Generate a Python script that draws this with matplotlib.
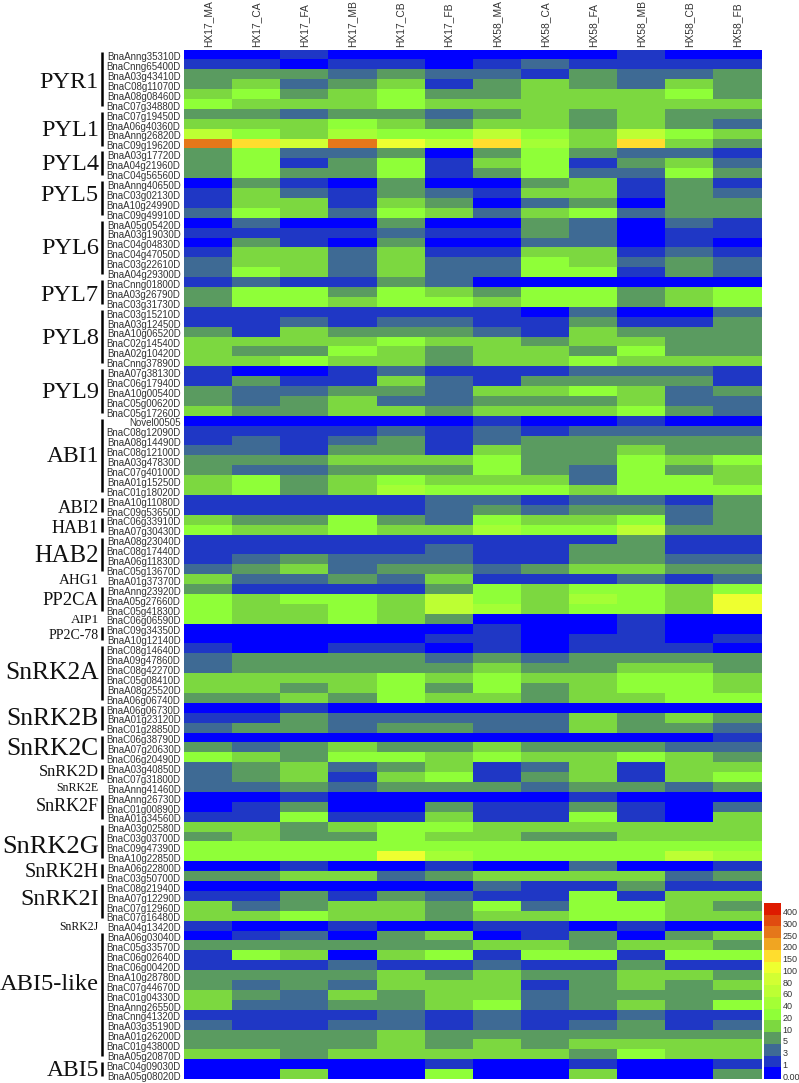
import matplotlib

matplotlib.use("Agg")
import matplotlib.pyplot as plt
import numpy as np
from matplotlib.colors import BoundaryNorm, ListedColormap

samples = ["HX17_MA", "HX17_CA", "HX17_FA", "HX17_MB", "HX17_CB", "HX17_FB",
           "HX58_MA", "HX58_CA", "HX58_FA", "HX58_MB", "HX58_CB", "HX58_FB"]

genes = [
    "BnaAnng35310D", "BnaCnng65400D", "BnaA03g43410D", "BnaC08g11070D", "BnaA08g08460D", "BnaC07g34880D",
    "BnaC07g19450D", "BnaA06g40360D", "BnaAnng26820D", "BnaC09g19620D",
    "BnaA03g17720D", "BnaA04g21960D", "BnaC04g56560D",
    "BnaAnng40650D", "BnaC03g02130D", "BnaA10g24990D", "BnaC09g49910D",
    "BnaA05g05420D", "BnaA03g19030D", "BnaC04g04830D", "BnaC04g47050D", "BnaC03g22610D", "BnaA04g29300D",
    "BnaCnng01800D", "BnaA03g26790D", "BnaC03g31730D",
    "BnaC03g15210D", "BnaA03g12450D", "BnaA10g06520D", "BnaC02g14540D", "BnaA02g10420D", "BnaCnng37890D",
    "BnaA07g38130D", "BnaC06g17940D", "BnaA10g00540D", "BnaC05g00620D", "BnaC05g17260D",
    "Novel00505", "BnaC08g12090D", "BnaA08g14490D", "BnaC08g12100D", "BnaA03g47830D", "BnaC07g40100D",
    "BnaA01g15250D", "BnaC01g18020D",
    "BnaA10g11080D", "BnaC09g53650D",
    "BnaC06g33910D", "BnaA07g30430D",
    "BnaA08g23040D", "BnaC08g17440D", "BnaA06g11830D", "BnaC05g13670D",
    "BnaA01g37370D",
    "BnaAnng23920D", "BnaA05g27660D", "BnaC05g41830D",
    "BnaC06g06590D",
    "BnaC09g34350D", "BnaA10g12140D",
    "BnaC08g14640D", "BnaA09g47860D", "BnaC08g42270D", "BnaC05g08410D", "BnaA08g25520D", "BnaA06g06740D",
    "BnaA06g06730D", "BnaA01g23120D", "BnaC01g28850D",
    "BnaC06g38790D", "BnaA07g20630D", "BnaC06g20490D",
    "BnaA03g40850D", "BnaC07g31800D",
    "BnaAnng41460D",
    "BnaAnng26730D", "BnaC01g00890D", "BnaA01g34560D",
    "BnaA03g02580D", "BnaC03g03700D", "BnaC09g47390D", "BnaA10g22850D",
    "BnaA06g22800D", "BnaC03g50700D",
    "BnaC08g21940D", "BnaA07g12290D", "BnaC07g12960D", "BnaC07g16480D",
    "BnaA04g13420D",
    "BnaA06g03040D", "BnaC05g33570D", "BnaC06g02640D", "BnaC06g00420D", "BnaA10g28780D", "BnaC07g44670D",
    "BnaC01g04330D", "BnaAnng26550D", "BnaCnng41320D", "BnaA03g35190D", "BnaA01g26200D", "BnaC01g43800D",
    "BnaA05g20870D",
    "BnaC04g09030D", "BnaA05g08020D",
]

hx17 = [
    [0, 0, 1, 0, 0, 0], [1, 1, 0, 1, 1, 0], [5, 5, 5, 3, 5, 3], [5, 10, 3, 5, 10, 1],
    [10, 20, 5, 10, 20, 5], [20, 10, 10, 10, 20, 10],
    [5, 5, 3, 5, 5, 3], [10, 10, 10, 20, 10, 5], [60, 20, 10, 40, 20, 20], [250, 150, 80, 250, 100, 60],
    [5, 20, 3, 3, 5, 0], [5, 20, 1, 5, 20, 1], [5, 20, 5, 5, 20, 1],
    [0, 5, 1, 0, 5, 0], [1, 10, 3, 1, 5, 3], [1, 10, 10, 1, 10, 5], [3, 20, 10, 3, 20, 10],
    [0, 3, 0, 0, 5, 0], [1, 1, 1, 1, 3, 1], [0, 5, 1, 0, 5, 0], [1, 10, 10, 3, 10, 1],
    [3, 10, 10, 3, 10, 3], [3, 20, 10, 3, 10, 3],
    [1, 3, 1, 1, 5, 3], [5, 20, 20, 5, 20, 10], [5, 20, 20, 10, 20, 20],
    [1, 1, 1, 1, 1, 1], [1, 1, 3, 1, 3, 3], [5, 1, 10, 5, 5, 5], [10, 10, 10, 10, 20, 10],
    [10, 5, 5, 20, 10, 5], [10, 10, 20, 10, 10, 5],
    [1, 0, 0, 1, 3, 1], [1, 5, 1, 1, 10, 3], [5, 3, 3, 5, 5, 3], [5, 3, 5, 10, 3, 3], [10, 5, 5, 10, 10, 5],
    [0, 0, 0, 0, 0, 0], [1, 1, 1, 1, 3, 1], [1, 3, 1, 3, 5, 1], [3, 3, 1, 5, 5, 1],
    [5, 5, 5, 10, 10, 10], [5, 3, 3, 5, 5, 5], [10, 20, 5, 10, 20, 10], [10, 20, 5, 10, 40, 20],
    [1, 1, 1, 1, 1, 3], [1, 1, 1, 1, 1, 3],
    [10, 5, 5, 20, 5, 3], [20, 10, 10, 20, 10, 10],
    [1, 1, 1, 1, 1, 1], [1, 1, 1, 1, 1, 3], [1, 3, 5, 3, 3, 3], [3, 5, 10, 3, 5, 5],
    [10, 3, 3, 5, 3, 10],
    [5, 1, 1, 1, 1, 5], [20, 10, 20, 20, 10, 60], [20, 10, 10, 20, 10, 60],
    [20, 10, 10, 20, 10, 5],
    [0, 0, 0, 0, 0, 0], [0, 0, 0, 0, 0, 1],
    [1, 0, 0, 1, 1, 0], [3, 5, 5, 5, 5, 3], [3, 5, 5, 5, 5, 5], [10, 10, 10, 10, 20, 10],
    [10, 10, 5, 10, 20, 5], [5, 5, 10, 5, 20, 10],
    [0, 0, 1, 0, 0, 0], [1, 1, 5, 3, 3, 3], [3, 5, 5, 3, 5, 5],
    [0, 0, 0, 0, 0, 0], [5, 3, 5, 10, 5, 5], [20, 10, 5, 20, 20, 10],
    [3, 5, 10, 3, 5, 10], [3, 5, 10, 1, 10, 20],
    [3, 3, 5, 3, 5, 5],
    [0, 0, 1, 0, 0, 0], [0, 1, 5, 0, 0, 5], [1, 1, 20, 1, 1, 10],
    [10, 10, 5, 10, 20, 20], [5, 10, 5, 5, 20, 10], [20, 20, 20, 20, 20, 20], [20, 20, 20, 20, 100, 40],
    [0, 0, 1, 0, 0, 1], [5, 5, 10, 10, 3, 5],
    [0, 0, 0, 0, 0, 0], [1, 1, 5, 1, 5, 3], [10, 3, 5, 10, 10, 5], [10, 10, 20, 10, 10, 5],
    [1, 0, 0, 1, 0, 0],
    [0, 1, 3, 0, 5, 10], [5, 5, 5, 5, 5, 5], [1, 20, 10, 0, 10, 20], [1, 1, 1, 3, 1, 1],
    [5, 5, 5, 5, 10, 5], [5, 3, 5, 3, 10, 10], [10, 5, 3, 10, 5, 10], [10, 3, 3, 5, 5, 10],
    [1, 1, 1, 1, 3, 1], [3, 1, 1, 3, 3, 1], [5, 5, 5, 5, 10, 5], [5, 5, 5, 5, 10, 5], [10, 10, 5, 10, 10, 10],
    [0, 0, 0, 0, 0, 1], [0, 0, 10, 0, 0, 20],
]

hx58 = [
    [0, 0, 0, 1, 0, 0], [1, 3, 1, 1, 1, 1], [3, 1, 5, 3, 3, 5], [5, 10, 5, 3, 10, 5],
    [5, 10, 10, 10, 20, 5], [10, 10, 10, 10, 10, 10],
    [5, 10, 5, 10, 5, 5], [10, 10, 5, 10, 5, 3], [60, 20, 10, 60, 20, 10], [150, 40, 10, 150, 10, 5],
    [5, 20, 5, 3, 3, 1], [10, 20, 1, 5, 10, 3], [5, 20, 3, 3, 20, 5],
    [0, 5, 10, 1, 5, 1], [1, 10, 10, 1, 5, 3], [0, 3, 5, 0, 5, 5], [3, 10, 20, 3, 5, 5],
    [0, 5, 3, 0, 3, 1], [1, 5, 3, 0, 1, 1], [0, 3, 3, 0, 1, 0], [1, 10, 10, 1, 3, 1],
    [3, 20, 10, 3, 5, 3], [3, 20, 20, 1, 5, 3],
    [0, 0, 0, 0, 0, 0], [5, 20, 20, 5, 10, 20], [10, 20, 20, 5, 10, 20],
    [1, 0, 3, 0, 0, 3], [1, 1, 5, 1, 1, 5], [3, 1, 10, 5, 5, 5], [10, 5, 10, 10, 5, 5],
    [10, 10, 5, 20, 5, 5], [10, 10, 20, 10, 10, 10],
    [1, 1, 3, 3, 3, 1], [1, 5, 5, 5, 5, 1], [10, 10, 20, 10, 3, 5], [5, 5, 5, 10, 3, 3], [10, 10, 10, 20, 5, 3],
    [1, 0, 0, 1, 0, 0], [3, 1, 3, 3, 3, 3], [3, 5, 5, 5, 5, 5], [10, 5, 5, 10, 5, 5],
    [20, 5, 5, 20, 10, 20], [20, 5, 3, 20, 5, 10], [10, 10, 3, 20, 20, 10], [20, 20, 10, 20, 20, 20],
    [3, 1, 3, 3, 1, 5], [5, 3, 5, 5, 3, 5],
    [20, 10, 10, 20, 3, 5], [40, 20, 20, 60, 5, 5],
    [1, 1, 1, 5, 1, 1], [1, 1, 5, 5, 1, 1], [1, 1, 5, 5, 3, 3], [3, 5, 10, 10, 5, 5],
    [1, 1, 1, 3, 1, 3],
    [20, 10, 20, 20, 10, 20], [20, 10, 40, 20, 10, 100], [40, 10, 20, 20, 10, 100],
    [0, 0, 0, 1, 0, 0],
    [1, 0, 0, 1, 0, 0], [1, 0, 1, 1, 0, 1],
    [1, 0, 1, 1, 1, 0], [5, 3, 5, 5, 5, 5], [10, 5, 5, 10, 10, 5], [20, 10, 10, 20, 20, 10],
    [20, 5, 10, 20, 20, 10], [10, 5, 10, 10, 20, 20],
    [0, 0, 0, 0, 0, 0], [3, 3, 10, 5, 10, 5], [3, 3, 10, 5, 5, 3],
    [0, 0, 0, 0, 0, 1], [10, 5, 5, 5, 3, 3], [20, 10, 10, 20, 10, 5],
    [1, 3, 10, 1, 10, 10], [1, 5, 10, 1, 10, 20],
    [5, 3, 5, 5, 3, 5],
    [0, 0, 1, 0, 0, 0], [1, 1, 5, 1, 0, 3], [1, 1, 20, 1, 0, 10],
    [10, 10, 10, 10, 10, 10], [10, 5, 5, 10, 10, 10], [20, 20, 20, 20, 20, 20], [20, 20, 20, 20, 60, 40],
    [0, 0, 3, 0, 0, 1], [10, 10, 10, 10, 3, 5],
    [3, 1, 1, 5, 1, 1], [1, 1, 20, 1, 10, 10], [20, 3, 20, 20, 10, 5], [10, 10, 20, 20, 10, 10],
    [1, 1, 0, 1, 0, 0],
    [0, 1, 5, 0, 5, 10], [10, 10, 5, 10, 10, 5], [1, 20, 20, 1, 20, 20], [3, 1, 1, 5, 1, 1],
    [10, 5, 5, 10, 10, 5], [10, 1, 5, 10, 5, 10], [10, 3, 5, 5, 5, 5], [20, 3, 5, 10, 5, 20],
    [3, 1, 1, 3, 1, 1], [3, 1, 3, 5, 1, 3], [5, 5, 5, 5, 5, 5], [10, 5, 10, 10, 10, 10], [10, 10, 5, 20, 10, 10],
    [0, 0, 1, 0, 0, 1], [0, 0, 10, 0, 0, 5],
]

families = ["PYR1", "PYL1", "PYL4", "PYL5", "PYL6", "PYL7", "PYL8", "PYL9", "ABI1", "ABI2", "HAB1", "HAB2", "AHG1",
            "PP2CA", "AIP1", "PP2C-78", "SnRK2A", "SnRK2B", "SnRK2C", "SnRK2D", "SnRK2E", "SnRK2F", "SnRK2G",
            "SnRK2H", "SnRK2I", "SnRK2J", "ABI5-like", "ABI5"]
family_rows = [6, 4, 3, 4, 6, 3, 6, 5, 8, 2, 2, 4, 1, 3, 1, 2, 6, 3, 3, 2, 1, 3, 4, 2, 4, 1, 13, 2]
family_sizes = [17.5, 17.5, 17.5, 17.5, 17.5, 17.5, 17.5, 17.5, 17, 13.3, 13, 17.8, 10.8, 13.4, 9.6, 10, 18.4, 18.4,
                18.4, 11.8, 8.6, 13, 19, 14.6, 17.2, 8.5, 17.6, 17]
# vertical nudge of the family names, in rows
family_shift = [0.2, 0, 0, -0.4, 0, 0.2, 0, 0, 0, 0.2, 0.2, 0, 0, 0, 0, 0, -0.2, 0, 0, -0.2, 0, -0.2, 0.4, 0, -0.3,
                0, -1.2, 0]
family_bar = [1, 1, 1, 1, 1, 1, 1, 1, 1, 1, 1, 1, 0, 1, 0, 1, 1, 1, 1, 1, 0, 1, 1, 1, 1, 0, 1, 1]

levels = [0, 1, 3, 5, 10, 20, 40, 60, 80, 100, 150, 200, 250, 300, 400]
level_labels = ["0.00", "1", "3", "5", "10", "20", "40", "60", "80", "100", "150", "200", "250", "300", "400"]
level_colors = ["#0000ff", "#1f37c5", "#3e6a94", "#5a9b60", "#7cd840", "#8fff38", "#a4ff35", "#bdff33",
                "#d2ff33", "#eeff30", "#ffdd2e", "#f0a522", "#e5771a", "#e04b10", "#de1b00"]

W, H = 799, 1083


def pixel_axes(fig, left, top, right, bottom):
    return fig.add_axes([left / W, 1 - bottom / H, (right - left) / W, (bottom - top) / H])


values = np.hstack([np.array(hx17), np.array(hx58)])

cmap = ListedColormap(level_colors)
norm = BoundaryNorm(np.array(levels + [500]) - 0.5, cmap.N)

fig = plt.figure(figsize=(W / 100, H / 100), dpi=100)

# Heatmap
ax = pixel_axes(fig, 184, 49.5, 761.5, 1079)
ax.pcolormesh(values, cmap=cmap, norm=norm, edgecolors="none")
ax.set_xlim(0, len(samples))
ax.set_ylim(len(genes), 0)
ax.tick_params(length=0)
for spine in ax.spines.values():
    spine.set_visible(False)

ax.xaxis.tick_top()
ax.set_xticks(np.arange(len(samples)) + 0.5)
ax.set_xticklabels(samples, rotation=90, fontsize=7.4, family="Liberation Sans", color="#333333")
ax.tick_params(axis="x", pad=2)

ax.set_yticks(np.arange(len(genes)) + 0.68)
ax.set_yticklabels(genes, fontsize=7.0, family="Liberation Sans", color="#333333")
ax.tick_params(axis="y", pad=2.5)

# Gene family brackets and names
row = 0
for name, n, size, shift, bar in zip(families, family_rows, family_sizes, family_shift, family_bar):
    middle = row + n / 2
    if bar:
        ax.plot([-1.71, -1.71], [row + 0.3, row + n - 0.3], color="black", lw=1.8, clip_on=False,
                solid_capstyle="butt")
    ax.text(-1.77, middle + 0.15 + shift, name, ha="right", va="center", fontsize=size, family="Liberation Serif",
            color="#111111", clip_on=False)
    row += n

# Colour legend
cax = pixel_axes(fig, 763.5, 903, 781, 1079)
cax.pcolormesh(np.array(levels).reshape(-1, 1), cmap=cmap, norm=norm, edgecolors="none")
cax.set_ylim(0, len(levels))
cax.set_xticks([])
cax.yaxis.tick_right()
cax.set_yticks(np.arange(len(levels)) + 0.25)
cax.set_yticklabels(level_labels, fontsize=6.5, family="Liberation Sans", color="#333333")
cax.tick_params(axis="y", length=0, pad=1)
for spine in cax.spines.values():
    spine.set_visible(False)

fig.savefig("out.png", dpi=100)
